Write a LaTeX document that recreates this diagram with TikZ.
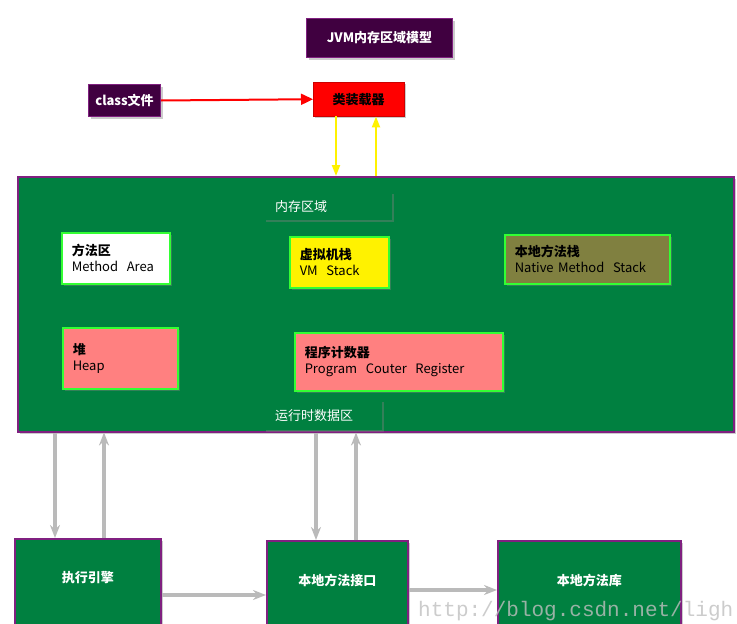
\documentclass[tikz,border=0pt]{standalone}
\usepackage{fontspec}
\setmainfont{Noto Sans CJK SC}
\newfontfamily\markfont{Liberation Mono}
\usetikzlibrary{arrows.meta,shadows}

\definecolor{jvmpurple}{HTML}{400040}
\definecolor{jvmedge}{HTML}{802080}
\definecolor{jvmgreen}{HTML}{008040}
\definecolor{jvmlime}{HTML}{33FF33}
\definecolor{jvmolive}{HTML}{808040}
\definecolor{jvmpink}{HTML}{FF8080}

\begin{document}
\begin{tikzpicture}[x=1pt,y=-1pt,
    every node/.style={font=\fontsize{13}{16}\selectfont},
    shadebox/.style={anchor=north west, inner sep=0pt,
      drop shadow={shadow xshift=2pt,shadow yshift=-2pt,opacity=0.4}},
    darkbox/.style={shadebox, fill=jvmpurple, draw=jvmedge, line width=1pt,
      text=white, font=\fontsize{13}{16}\selectfont\bfseries},
    greenbox/.style={shadebox, fill=jvmgreen, draw=jvmedge, line width=1.5pt, text=white},
    labelbox/.style={shadebox, fill=jvmgreen, text=white, align=left, inner xsep=11pt},
    areabox/.style={shadebox, draw=jvmlime, line width=1.5pt, align=left, inner xsep=10pt},
    boxtext/.style={text=white, font=\fontsize{13}{16}\selectfont\bfseries},
    redarrow/.style={draw=red, line width=2pt, -{Triangle[length=12pt,width=11pt]}},
    yellowarrow/.style={draw=yellow, line width=2pt, -{Triangle[length=11pt,width=8pt]}},
    grayarrow/.style={draw=black!27, line width=3.2pt, -{Stealth[length=13pt,width=10pt]}}
  ]
  \useasboundingbox (0,0) rectangle (737,624);
  \clip (0,0) rectangle (737,624);

  % top row
  \node[darkbox, minimum width=146pt, minimum height=39pt] (title) at (306,18) {JVM内存区域模型};
  \node[darkbox, minimum width=72pt, minimum height=32pt] (classfile) at (88,84) {class文件};
  \node[shadebox, fill=red, draw=red!80!black, minimum width=91pt, minimum height=34pt,
    font=\fontsize{13}{16}\selectfont\bfseries] (loader) at (313,82) {类装载器};

  % runtime data area
  \node[greenbox, minimum width=716pt, minimum height=255pt] (memory) at (17,176) {};
  \node[labelbox, text width=106pt, minimum height=28pt] (memlabel) at (264,192) {内存区域};
  \node[labelbox, text width=96pt, minimum height=30pt] (runlabel) at (264,400) {运行时数据区};

  \node[areabox, fill=white, text width=88pt, minimum height=51pt] (method) at (61,232)
    {\textbf{方法区}\\Method\ \ Area};
  \node[areabox, fill=yellow, text width=79pt, minimum height=51pt] (vmstack) at (289,236)
    {\textbf{虚拟机栈}\\VM\ \ Stack};
  \node[areabox, fill=jvmolive, text width=145pt, minimum height=49pt] (nativestack) at (504,234)
    {\textbf{本地方法栈}\\Native Method\ \ Stack};
  \node[areabox, fill=jvmpink, text width=95pt, minimum height=61pt] (heap) at (62,327)
    {\textbf{堆}\\Heap\\[6pt]};
  \node[areabox, fill=jvmpink, text width=188pt, minimum height=58pt] (pc) at (294,332)
    {\textbf{程序计数器}\\Program\ \ Couter\ \ Register};

  % bottom row
  \node[greenbox, minimum width=146pt, minimum height=110pt] (engine) at (14,538) {};
  \node[greenbox, minimum width=141pt, minimum height=110pt] (iface) at (266,540) {};
  \node[greenbox, minimum width=183pt, minimum height=110pt] (lib) at (497,540) {};
  \node[boxtext] (enginetext) at ([yshift=-40pt]engine.north) {执行引擎};
  \node[boxtext] (ifacetext) at ([yshift=-40pt]iface.north) {本地方法接口};
  \node[boxtext] (libtext) at ([yshift=-40pt]lib.north) {本地方法库};

  % connectors
  \draw[redarrow] (classfile.east) -- (loader.west);
  \draw[yellowarrow] ([xshift=23pt]loader.south west) -- ([xshift=23pt]loader.south west |- memory.north);
  \draw[yellowarrow] ([xshift=63pt]loader.south west |- memory.north) -- ([xshift=63pt]loader.south west);

  \draw[grayarrow] ([xshift=41pt]engine.north west |- memory.south) -- ([xshift=41pt]engine.north west);
  \draw[grayarrow] ([xshift=90pt]engine.north west) -- ([xshift=90pt]engine.north west |- memory.south);
  \draw[grayarrow] ([xshift=50pt]iface.north west |- memory.south) -- ([xshift=50pt]iface.north west);
  \draw[grayarrow] ([xshift=90pt]iface.north west) -- ([xshift=90pt]iface.north west |- memory.south);
  \draw[grayarrow] ([yshift=-57pt]engine.north east) -- ([yshift=-57pt]engine.north east -| iface.west);
  \draw[grayarrow] ([yshift=-50pt]iface.north east) -- ([yshift=-50pt]iface.north east -| lib.west);

  % watermark
  \node[anchor=base west, inner sep=0pt, text=black!25, opacity=0.8,
    font=\fontsize{21}{23}\markfont] (mark) at (418,616) {http://blog.csdn.net/ligh};
\end{tikzpicture}
\end{document}
